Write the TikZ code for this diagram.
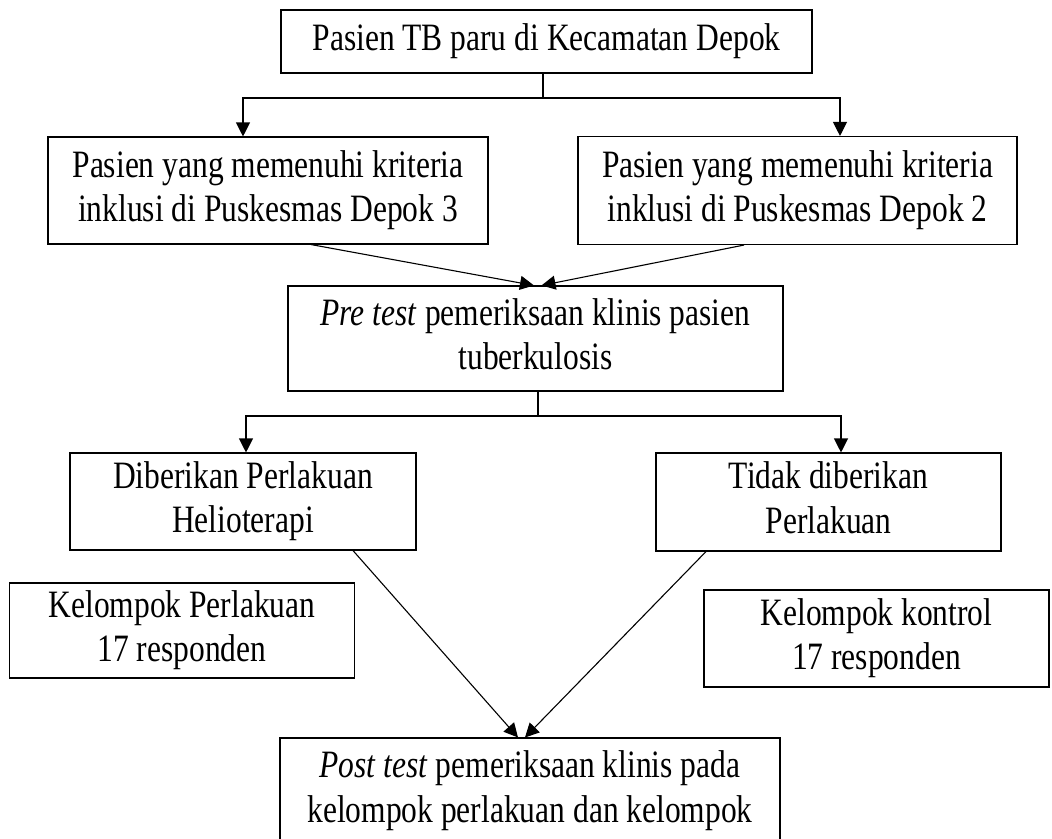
\documentclass[tikz,border=0pt]{standalone}
\usepackage{fontspec}
\usepackage{graphicx}
\setmainfont{Liberation Serif}
\usetikzlibrary{arrows.meta,calc}
\newcommand{\sttext}[1]{\scalebox{1}[1.23]{\begin{tabular}{@{}c@{}}#1\end{tabular}}}
\begin{document}
\begin{tikzpicture}[x=1pt,y=-1pt,
  box/.style={draw, line width=1.1pt, align=center, inner sep=0pt,
    font=\fontsize{31.5}{36.5}\selectfont},
  ln/.style={line width=1.1pt},
  arr/.style={line width=1.1pt, -{Triangle[length=14pt,width=14pt]}}]
\useasboundingbox (0,0) rectangle (1052,838);
\clip (0,0) rectangle (1052,838);
\fill[white] (0,0) rectangle (1052,838);
% boxes
\node[box, minimum width=531pt, minimum height=63pt] (b1) at (546.5,41.5) {\sttext{Pasien TB paru di Kecamatan Depok}};
\node[box, minimum width=440pt, minimum height=107pt] (b2) at (268,190.5) {\sttext{Pasien yang memenuhi kriteria\\inklusi di Puskesmas Depok 3}};
\node[box, minimum width=439pt, minimum height=108pt] (b3) at (797.5,190.5) {\sttext{Pasien yang memenuhi kriteria\\inklusi di Puskesmas Depok 2}};
\node[box, minimum width=495pt, minimum height=105pt] (b4) at (535.5,338.5) {\sttext{\textit{Pre test} pemeriksaan klinis pasien\\tuberkulosis}};
\node[box, minimum width=346pt, minimum height=97pt] (b5) at (243,501.5) {\sttext{Diberikan Perlakuan\\Helioterapi}};
\node[box, minimum width=345pt, minimum height=98pt] (b6) at (828.5,502) {\sttext{Tidak diberikan\\Perlakuan}};
\node[box, minimum width=345pt, minimum height=95pt] (b7) at (182,630.5) {\sttext{Kelompok Perlakuan\\17 responden}};
\node[box, minimum width=345pt, minimum height=97pt] (b8) at (876.5,638.5) {\sttext{Kelompok kontrol\\17 responden}};
\node[box, minimum width=500pt, minimum height=106pt] (b9) at (530,791) {\sttext{\textit{Post test} pemeriksaan klinis pada\\kelompok perlakuan dan kelompok}};
% first split
\coordinate (j1) at (543,98);
\coordinate (hL1) at (243,98);
\coordinate (hR1) at (840,98);
\draw[ln] (b1.south -| j1) -- (j1);
\draw[arr] (j1) -- (hL1) -- (hL1 |- b2.north);
\draw[arr] (j1) -- (hR1) -- (hR1 |- b3.north);
% merge into pre test
\draw[arr] ($(b2.south)+(43,0)$) -- ($(b4.north)+(-1.5,0)$);
\draw[arr] ($(b3.south)+(-53.5,0)$) -- ($(b4.north)+(6,0)$);
% second split
\coordinate (j2) at (538,416);
\coordinate (hL2) at (246,416);
\coordinate (hR2) at (841,416);
\draw[ln] (b4.south -| j2) -- (j2);
\draw[arr] (j2) -- (hL2) -- (hL2 |- b5.north);
\draw[arr] (j2) -- (hR2) -- (hR2 |- b6.north);
% merge into post test
\draw[arr] ($(b5.south)+(110,0)$) -- ($(b9.north)+(-12,0)$);
\draw[arr] ($(b6.south)+(-122.5,0)$) -- ($(b9.north)+(-5,0)$);
\end{tikzpicture}
\end{document}
